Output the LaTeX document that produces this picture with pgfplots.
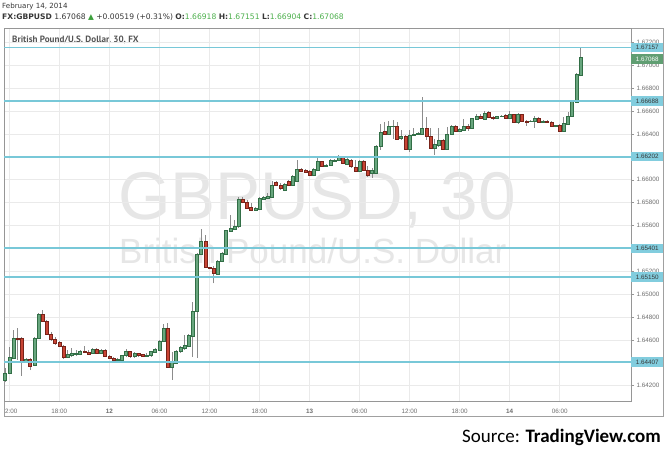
\documentclass[border=0pt]{standalone}
\usepackage{pgfplots}
\pgfplotsset{compat=1.18}
\usepackage{pgfplotstable}
\usepackage{fontspec}
\setmainfont{PT Sans}
\newfontfamily\lib{Liberation Sans}
\newfontfamily\dv{DejaVu Sans}
\newfontfamily\carl{Carlito}

\definecolor{gridgray}{RGB}{234,234,234}
\definecolor{axisgray}{RGB}{150,150,150}
\definecolor{framegray}{RGB}{160,160,160}
\definecolor{labgray}{RGB}{110,110,110}
\definecolor{hdgray}{RGB}{85,85,85}
\definecolor{txtdark}{RGB}{55,55,55}
\definecolor{valgreen}{RGB}{76,176,76}
\definecolor{upgreen}{RGB}{60,160,60}
\definecolor{linecyan}{RGB}{120,200,216}
\definecolor{boxcyan}{RGB}{130,205,222}
\definecolor{boxgreen}{RGB}{96,158,114}
\definecolor{greenbody}{RGB}{104,166,126}
\definecolor{greenedge}{RGB}{50,110,70}
\definecolor{redbody}{RGB}{200,68,52}
\definecolor{rededge}{RGB}{120,35,25}
\definecolor{wickgray}{RGB}{140,140,140}
\definecolor{wmgray}{RGB}{230,230,230}

\pgfplotstableread{
i o h l c d
-1 1.64250 1.64355 1.64232 1.64311 1
0 1.64311 1.64538 1.64302 1.64451 1
1 1.64442 1.64687 1.64433 1.64617 1
2 1.64617 1.64704 1.64425 1.64608 0
3 1.64617 1.64626 1.64285 1.64416 0
4 1.64416 1.64442 1.64407 1.64433 1
5 1.64433 1.64442 1.64337 1.64372 0
6 1.64381 1.64626 1.64372 1.64617 1
7 1.64617 1.64835 1.64608 1.64827 1
8 1.64827 1.64862 1.64757 1.64766 0
9 1.64766 1.64774 1.64643 1.64652 0
10 1.64652 1.64669 1.64591 1.64608 0
11 1.64608 1.64626 1.64556 1.64573 0
12 1.64582 1.64591 1.64538 1.64547 0
13 1.64547 1.64556 1.64433 1.64451 0
14 1.64451 1.64512 1.64446 1.64477 1
15 1.64468 1.64529 1.64451 1.64486 1
16 1.64477 1.64512 1.64460 1.64481 1
17 1.64477 1.64512 1.64468 1.64503 1
18 1.64503 1.64547 1.64486 1.64494 0
19 1.64494 1.64512 1.64468 1.64477 0
20 1.64486 1.64529 1.64477 1.64521 1
21 1.64521 1.64529 1.64477 1.64486 0
22 1.64486 1.64521 1.64477 1.64512 1
23 1.64512 1.64521 1.64451 1.64460 0
24 1.64453 1.64468 1.64433 1.64436 0
25 1.64436 1.64451 1.64420 1.64425 0
26 1.64425 1.64442 1.64416 1.64429 1
27 1.64425 1.64468 1.64416 1.64462 1
28 1.64462 1.64521 1.64455 1.64497 1
29 1.64497 1.64503 1.64446 1.64453 0
30 1.64453 1.64494 1.64446 1.64483 1
31 1.64483 1.64490 1.64455 1.64462 0
32 1.64471 1.64477 1.64451 1.64460 0
33 1.64460 1.64486 1.64451 1.64464 1
34 1.64462 1.64503 1.64455 1.64497 1
35 1.64492 1.64529 1.64486 1.64521 1
36 1.64512 1.64599 1.64508 1.64591 1
37 1.64591 1.64739 1.64582 1.64702 1
38 1.64702 1.64745 1.64358 1.64361 0
39 1.64361 1.64497 1.64250 1.64401 1
40 1.64396 1.64512 1.64390 1.64497 1
41 1.64497 1.64545 1.64490 1.64536 1
42 1.64527 1.64643 1.64512 1.64550 1
43 1.64541 1.64650 1.64534 1.64643 1
44 1.64634 1.64934 1.64453 1.64847 1
45 1.64847 1.65360 1.64442 1.65351 1
46 1.65349 1.65567 1.65343 1.65465 1
47 1.65465 1.65517 1.65229 1.65232 0
48 1.65232 1.65238 1.65216 1.65223 0
49 1.65226 1.65246 1.65095 1.65183 0
50 1.65176 1.65299 1.65168 1.65290 1
51 1.65284 1.65369 1.65281 1.65357 1
52 1.65351 1.65561 1.65347 1.65555 1
53 1.65552 1.65692 1.65544 1.65576 1
54 1.65570 1.65649 1.65566 1.65596 1
55 1.65590 1.65850 1.65579 1.65832 1
56 1.65832 1.65850 1.65793 1.65800 0
57 1.65800 1.65823 1.65745 1.65751 0
58 1.65756 1.65797 1.65727 1.65736 0
59 1.65736 1.65762 1.65727 1.65751 1
60 1.65745 1.65850 1.65740 1.65838 1
61 1.65832 1.65854 1.65828 1.65844 1
62 1.65838 1.65885 1.65832 1.65858 1
63 1.65847 1.65990 1.65841 1.65955 1
64 1.65975 1.65990 1.65946 1.65948 0
65 1.65948 1.65972 1.65911 1.65926 0
66 1.65911 1.65972 1.65902 1.65963 1
67 1.65983 1.65998 1.65946 1.65955 0
68 1.65952 1.66042 1.65946 1.66027 1
69 1.65983 1.66173 1.65981 1.66092 1
70 1.66092 1.66099 1.66068 1.66077 0
71 1.66080 1.66094 1.66060 1.66068 0
72 1.66071 1.66086 1.66033 1.66042 0
73 1.66042 1.66103 1.66033 1.66092 1
74 1.66086 1.66191 1.66077 1.66158 1
75 1.66158 1.66164 1.66112 1.66121 0
76 1.66121 1.66138 1.66112 1.66125 1
77 1.66123 1.66182 1.66121 1.66167 1
78 1.66164 1.66178 1.66160 1.66173 1
79 1.66167 1.66217 1.66164 1.66193 1
80 1.66193 1.66199 1.66138 1.66143 0
81 1.66138 1.66191 1.66129 1.66179 1
82 1.66173 1.66182 1.66103 1.66115 0
83 1.66109 1.66173 1.66068 1.66071 0
84 1.66071 1.66173 1.66068 1.66164 1
85 1.66164 1.66173 1.66077 1.66086 0
86 1.66086 1.66121 1.66025 1.66042 0
87 1.66057 1.66103 1.66016 1.66080 1
88 1.66057 1.66304 1.66051 1.66296 1
89 1.66289 1.66488 1.66261 1.66412 1
90 1.66421 1.66505 1.66392 1.66400 0
91 1.66398 1.66514 1.66392 1.66464 1
92 1.66464 1.66523 1.66357 1.66470 1
93 1.66470 1.66505 1.66348 1.66357 0
94 1.66359 1.66435 1.66348 1.66377 1
95 1.66377 1.66392 1.66261 1.66267 0
96 1.66267 1.66435 1.66243 1.66386 1
97 1.66386 1.66453 1.66383 1.66400 1
98 1.66398 1.66418 1.66392 1.66407 1
99 1.66400 1.66721 1.66392 1.66450 1
100 1.66450 1.66549 1.66348 1.66377 0
101 1.66383 1.66453 1.66269 1.66275 0
102 1.66275 1.66357 1.66217 1.66313 1
103 1.66304 1.66453 1.66289 1.66348 1
104 1.66348 1.66357 1.66261 1.66267 0
105 1.66267 1.66459 1.66261 1.66400 1
106 1.66398 1.66479 1.66392 1.66470 1
107 1.66470 1.66479 1.66418 1.66421 0
108 1.66427 1.66453 1.66418 1.66442 1
109 1.66429 1.66529 1.66427 1.66470 1
110 1.66470 1.66488 1.66427 1.66450 0
111 1.66450 1.66540 1.66444 1.66534 1
112 1.66532 1.66575 1.66523 1.66558 1
113 1.66558 1.66575 1.66532 1.66534 0
114 1.66529 1.66602 1.66523 1.66581 1
115 1.66587 1.66602 1.66540 1.66543 0
116 1.66546 1.66558 1.66527 1.66534 0
117 1.66538 1.66562 1.66532 1.66552 1
118 1.66553 1.66567 1.66549 1.66558 1
119 1.66567 1.66575 1.66532 1.66538 0
120 1.66538 1.66604 1.66532 1.66573 1
121 1.66573 1.66575 1.66497 1.66499 0
122 1.66499 1.66584 1.66492 1.66575 1
123 1.66573 1.66575 1.66505 1.66508 0
124 1.66514 1.66523 1.66473 1.66503 0
125 1.66508 1.66523 1.66505 1.66514 1
126 1.66514 1.66558 1.66453 1.66540 1
127 1.66540 1.66549 1.66497 1.66499 0
128 1.66503 1.66523 1.66497 1.66514 1
129 1.66514 1.66519 1.66497 1.66503 0
130 1.66505 1.66514 1.66462 1.66464 0
131 1.66464 1.66479 1.66459 1.66477 1
132 1.66479 1.66484 1.66418 1.66421 0
133 1.66421 1.66549 1.66418 1.66491 1
134 1.66488 1.66593 1.66484 1.66558 1
135 1.66552 1.66698 1.66549 1.66683 1
136 1.66676 1.66934 1.66672 1.66924 1
137 1.66918 1.67151 1.66904 1.67068 1
}\candles

% axis: 373pt high for 1.64066..1.67327 -> 11438.2 pt per unit
\pgfdeclareplotmark{candle}{%
  \begin{pgfscope}%
    \pgfsetstrokecolor{wickgray}\pgfsetlinewidth{0.8pt}%
    \pgfpathmoveto{\pgfpoint{0pt}{\dL pt}}%
    \pgfpathlineto{\pgfpoint{0pt}{\dH pt}}%
    \pgfusepathqstroke
  \end{pgfscope}%
  \pgfpathrectanglecorners{\pgfpoint{-1.5pt}{\dO pt}}{\pgfpoint{1.5pt}{0pt}}%
  \pgfusepathqfillstroke
}

\pgfplotsset{
  candlestyle/.style={
    only marks, mark=candle,
    visualization depends on={(\thisrow{o}-\thisrow{c})*11438.2 \as \dO},
    visualization depends on={(\thisrow{h}-\thisrow{c})*11438.2 \as \dH},
    visualization depends on={(\thisrow{l}-\thisrow{c})*11438.2 \as \dL},
  },
  hline/.style={draw=linecyan, line width=1.8pt, mark=none},
}

\begin{document}
\begin{tikzpicture}
\useasboundingbox[fill=white] (0pt,0pt) rectangle (670pt,-453pt);

% watermark
\node[anchor=base west, inner sep=0pt, text=wmgray] at (118pt,-219pt)
  {\lib\fontsize{67.5}{68}\selectfont GBPUSD, 30};
\node[anchor=base west, inner sep=0pt, text=wmgray] at (119pt,-263pt)
  {\lib\fontsize{35}{36}\selectfont British Pound/U.S. Dollar};

% header texts
\node[anchor=west, inner sep=0pt, text=txtdark] at (2pt,-6.5pt)
  {\dv\fontsize{7.1}{8}\selectfont February 14, 2014};
\node[anchor=west, inner sep=0pt, text=txtdark] at (2pt,-17pt)
  {\dv\fontsize{7.6}{9}\selectfont \textbf{FX:GBPUSD} 1.67068 {\color{upgreen}▲} +0.00519 (+0.31\%) \textbf{O:}{\color{valgreen}1.66918} \textbf{H:}{\color{valgreen}1.67151} \textbf{L:}{\color{valgreen}1.66904} \textbf{C:}{\color{valgreen}1.67068}};
\node[anchor=west, inner sep=0pt, text=hdgray] at (12pt,-40pt)
  {\fontsize{9.1}{10}\selectfont\bfseries British Pound/U.S. Dollar, 30, FX};

\draw[framegray, line width=0.7pt] (4pt,-28pt) rectangle (663pt,-416pt);

\begin{axis}[
  at={(4pt,-401pt)}, anchor=south west,
  width=627pt, height=373pt, scale only axis,
  xmin=-1.27, xmax=149.1,
  ymin=1.64066, ymax=1.67327,
  clip mode=individual,
  axis line style={draw=axisgray, line width=0.7pt},
  grid=major, grid style={draw=gridgray, line width=0.7pt},
  xtick={0,12,24,36,48,60,72,84,96,108,120,132},
  xticklabels={\hspace*{4pt}2:00,18:00,\textbf{12},06:00,12:00,18:00,\textbf{13},06:00,12:00,18:00,\textbf{14},06:00},
  xtick style={draw=none},
  x tick label style={font=\lib\fontsize{6.3}{7}\selectfont, text=labgray, yshift=-1.5pt},
  ytick={1.642,1.644,1.646,1.648,1.650,1.652,1.654,1.656,1.658,1.660,1.662,1.664,1.666,1.668,1.670,1.672},
  ytick pos=right, yticklabel pos=right,
  scaled y ticks=false,
  tick align=outside, major tick length=3pt,
  ytick style={draw=axisgray, line width=0.5pt},
  y tick label style={font=\lib\fontsize{6.3}{7}\selectfont, text=labgray, xshift=-1pt,
    /pgf/number format/fixed, /pgf/number format/fixed zerofill,
    /pgf/number format/precision=5, /pgf/number format/assume math mode=true},
]
\addplot[candlestyle, mark options={draw=greenedge, fill=greenbody, line width=0.5pt},
  restrict expr to domain={\thisrow{d}}{0.5:1.5}] table[x=i, y=c] {\candles};
\addplot[candlestyle, mark options={draw=rededge, fill=redbody, line width=0.5pt},
  restrict expr to domain={\thisrow{d}}{-0.5:0.5}] table[x=i, y=c] {\candles};

\addplot[hline] coordinates {(-1.27,1.67157) (149.1,1.67157)};
\addplot[hline] coordinates {(-1.27,1.66688) (149.1,1.66688)};
\addplot[hline] coordinates {(-1.27,1.66202) (149.1,1.66202)};
\addplot[hline] coordinates {(-1.27,1.65401) (149.1,1.65401)};
\addplot[hline] coordinates {(-1.27,1.65150) (149.1,1.65150)};
\addplot[hline] coordinates {(-1.27,1.64407) (149.1,1.64407)};

\foreach \v in {1.67157,1.66688,1.66202,1.65401,1.65150,1.64407}{
  \edef\tmp{\noexpand\node[anchor=west, fill=boxcyan, text=txtdark, inner sep=0pt,
    minimum width=32pt, minimum height=9.5pt, font=\noexpand\lib\noexpand\fontsize{6.3}{7}\noexpand\selectfont]
    at (axis cs:149.1,\v) {\v};}\tmp
}
\node[anchor=west, fill=boxgreen, text=white, inner sep=0pt,
    minimum width=32pt, minimum height=9.5pt, font=\lib\fontsize{6.3}{7}\selectfont]
    at (axis cs:149.1,1.67056) {1.67068};
\end{axis}

\node[anchor=base east, inner sep=0pt, text=black] at (661pt,-442pt)
  {\carl\fontsize{19}{20}\selectfont Source: \textbf{TradingView.com}};
\end{tikzpicture}
\end{document}
